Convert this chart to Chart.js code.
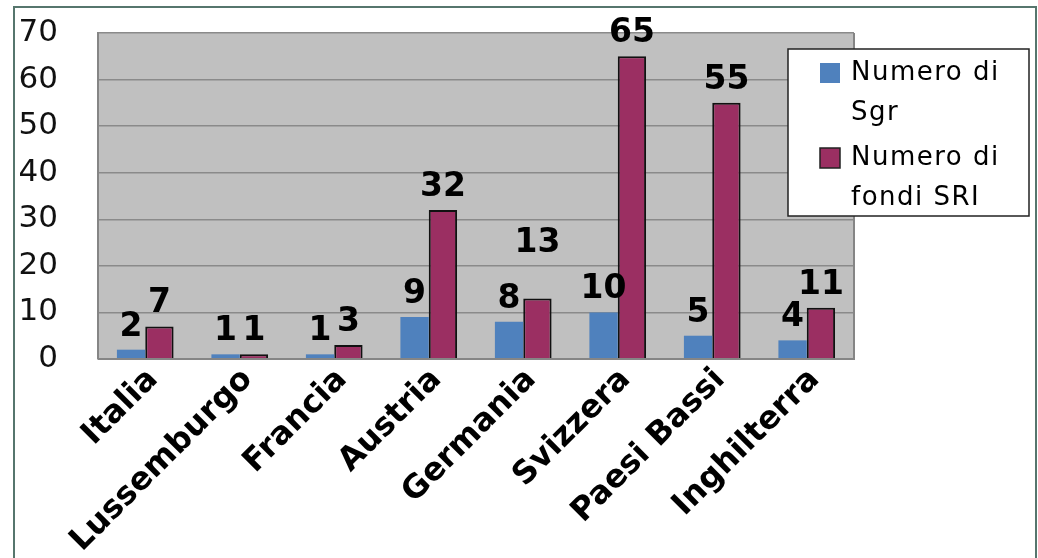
<!DOCTYPE html>
<html>
<head>
<meta charset="utf-8">
<script src="https://cdn.jsdelivr.net/npm/chart.js@4.4.1/dist/chart.umd.min.js"></script>
<style>
  html, body { margin: 0; padding: 0; background: #fff; }
  #wrap { width: 1038px; height: 558px; }
</style>
</head>
<body>
<div id="wrap"><canvas id="fondiChart" width="1038" height="558"></canvas></div>
<script>
// ===== data =====
const paesi = ['Italia', 'Lussemburgo', 'Francia', 'Austria', 'Germania', 'Svizzera', 'Paesi Bassi', 'Inghilterra'];
const numeroSgr = [2, 1, 1, 9, 8, 10, 5, 4];
const numeroFondiSri = [7, 1, 3, 32, 13, 65, 55, 11];
const yTicks = [0, 10, 20, 30, 40, 50, 60, 70];
const legendLines = [['Numero di', 'Sgr'], ['Numero di', 'fondi SRI']];

const BLUE = '#4f81bd';
const PLUM = '#9b2f62';

// gray plot background + outer frame
const plotBg = {
  id: 'plotBg',
  beforeDraw(chart) {
    const { ctx, chartArea: a } = chart;
    ctx.save();
    ctx.fillStyle = '#c0c0c0';
    ctx.fillRect(a.left, a.top, a.right - a.left, a.bottom - a.top);
    ctx.restore();
  },
  afterDraw(chart) {
    const { ctx, chartArea: a } = chart;
    ctx.save();
    ctx.strokeStyle = '#858585';
    ctx.lineWidth = 2;
    ctx.beginPath();
    ctx.moveTo(a.right, a.top);
    ctx.lineTo(a.right, a.bottom);
    ctx.lineTo(a.left, a.bottom);
    ctx.stroke();
    // outer frame
    ctx.strokeStyle = '#56766d';
    ctx.lineWidth = 2;
    ctx.strokeRect(14, 7, 1022, 600);
    ctx.restore();
  }
};

// value labels over the bars
const valueLabels = {
  id: 'valueLabels',
  afterDatasetsDraw(chart, args, opts) {
    const { ctx } = chart;
    ctx.save();
    ctx.font = 'bold 33px "DejaVu Sans"';
    ctx.fillStyle = '#000';
    ctx.textAlign = 'center';
    ctx.textBaseline = 'alphabetic';
    chart.data.datasets.forEach((ds, di) => {
      chart.getDatasetMeta(di).data.forEach((bar, i) => {
        const lift = (opts.lift[di] && opts.lift[di][i]) || 0;
        ctx.fillText(String(ds.data[i]), bar.x, bar.y - 14 - lift);
      });
    });
    ctx.restore();
  }
};

// excel-style legend box overlapping the plot
const boxLegend = {
  id: 'boxLegend',
  afterDraw(chart, args, opts) {
    const { ctx } = chart;
    const b = opts.box;
    ctx.save();
    ctx.fillStyle = '#fff';
    ctx.fillRect(b.x, b.y, b.w, b.h);
    ctx.strokeStyle = '#222';
    ctx.lineWidth = 1.5;
    ctx.strokeRect(b.x, b.y, b.w, b.h);
    ctx.font = '26px "DejaVu Sans"';
    ctx.letterSpacing = '1.5px';
    ctx.textBaseline = 'middle';
    chart.data.datasets.forEach((ds, di) => {
      const y0 = b.y + 24 + di * 85;
      ctx.fillStyle = ds.backgroundColor;
      ctx.fillRect(b.x + 32, y0 - 10, 20, 20);
      if (ds.borderWidth) {
        ctx.strokeStyle = '#222';
        ctx.lineWidth = 1.5;
        ctx.strokeRect(b.x + 32, y0 - 10, 20, 20);
      }
      ctx.fillStyle = '#000';
      legendLines[di].forEach((t, li) => {
        ctx.fillText(t, b.x + 63, y0 + li * 40);
      });
    });
    ctx.restore();
  }
};

const ctx = document.getElementById('fondiChart').getContext('2d');

new Chart(ctx, {
  type: 'bar',
  data: {
    labels: paesi,
    datasets: [
      {
        label: 'Numero di Sgr',
        data: numeroSgr,
        backgroundColor: BLUE,
        borderWidth: 0
      },
      {
        label: 'Numero di fondi SRI',
        data: numeroFondiSri,
        backgroundColor: PLUM,
        borderColor: '#111',
        borderWidth: 2
      }
    ]
  },
  options: {
    responsive: false,
    animation: false,
    layout: { padding: { top: 33, right: 184, left: 16, bottom: 0 } },
    datasets: { bar: { categoryPercentage: 0.6, barPercentage: 1.0 } },
    plugins: {
      legend: { display: false },
      tooltip: { enabled: false },
      valueLabels: { lift: { 1: { 4: 32 } } },
      boxLegend: { box: { x: 788, y: 49, w: 241, h: 167 } }
    },
    scales: {
      x: {
        grid: { display: false },
        border: { display: false },
        ticks: {
          color: '#000',
          font: { family: 'DejaVu Sans', size: 32, weight: 'bold' },
          minRotation: 45,
          maxRotation: 45,
          padding: -6,
          labelOffset: 8
        },
        afterFit(scale) { scale.height = 199; }
      },
      y: {
        min: 0,
        max: 70,
        afterBuildTicks(scale) { scale.ticks = yTicks.map(v => ({ value: v })); },
        grid: { color: '#8a8a8a', lineWidth: 1.5, drawTicks: false },
        border: { color: '#858585', width: 2 },
        ticks: {
          color: '#111',
          font: { family: 'DejaVu Sans', size: 31 },
          padding: 40
        },
        afterFit(scale) {
          scale.width = 82;
          // tick padding would otherwise push the plot top down
          scale.paddingTop = 0;
          scale.paddingBottom = 0;
        }
      }
    }
  },
  plugins: [plotBg, valueLabels, boxLegend]
});
</script>
</body>
</html>
